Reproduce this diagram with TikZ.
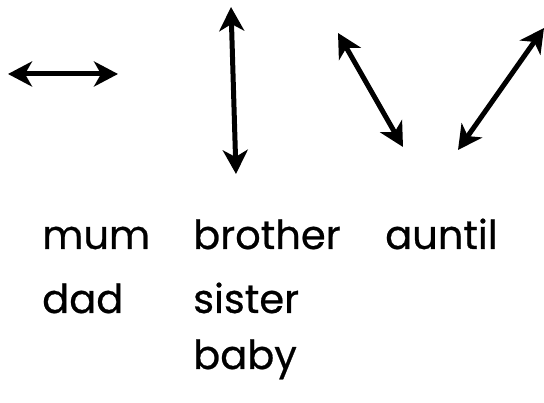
\documentclass[tikz,border=0pt]{standalone}
\usepackage{fontspec}
\setmainfont{Poppins}[FakeBold=0.6]
\usetikzlibrary{arrows.meta}

\begin{document}
\begin{tikzpicture}[x=1pt, y=-1pt, word/.style = {anchor=base west, inner sep=0pt, font=\fontsize{40}{40}\selectfont}, link/.style = {line width=5pt, {Stealth[length=24pt, width=25pt, inset=7pt]}-{Stealth[length=24pt, width=25pt, inset=7pt]}}]
      \useasboundingbox (0,0) rectangle (544,403);
      \coordinate (h1) at (8,74);
      \coordinate (h2) at (118,74);
      \coordinate (v1) at (231,7);
      \coordinate (v2) at (236,174);
      \coordinate (d1) at (338,33);
      \coordinate (d2) at (403,147);
      \coordinate (e1) at (544,28);
      \coordinate (e2) at (458,150);
      \node[word] (mum) at (42,249) {mum};
      \node[word] (dad) at (42,313) {dad};
      \node[word] (brother) at (193,249) {brother};
      \node[word] (sister) at (193,313) {sister};
      \node[word] (baby) at (193,369) {baby};
      \node[word] (auntil) at (385,249) {auntil};
      \draw[link] (h1) -- (h2) ;
      \draw[link] (v1) -- (v2) ;
      \draw[link] (d1) -- (d2) ;
      \draw[link] (e1) -- (e2) ;
\end{tikzpicture}
\end{document}
